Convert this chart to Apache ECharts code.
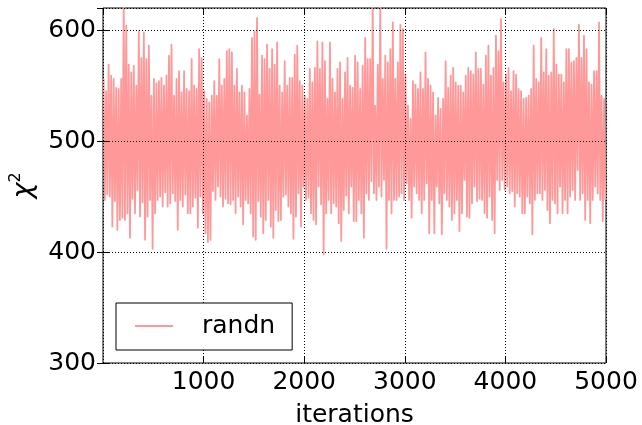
<!DOCTYPE html>
<html>
<head>
<meta charset="utf-8">
<title>chi-squared trace</title>
<script src="https://cdn.jsdelivr.net/npm/echarts@6/dist/echarts.min.js"></script>
<style>
  html, body { margin: 0; padding: 0; background: #fff; }
  #main { width: 642px; height: 425px; }
</style>
</head>
<body>
<div id="main"></div>
<script>
// Chi-squared trace of 5000 iterations, summarised per block of 25 iterations:
// the highest and the lowest value reached inside each block.
const blockSize = 25;

const blockHighs = [
  // iterations 0 - 1249
  556,545,569,559,556,548,547,556,623,604,569,562,568,550,599,575,598,574,586,541,
  556,552,554,557,550,559,577,587,541,556,563,544,563,547,545,574,550,547,583,575,
  545,538,535,541,554,541,574,550,556,581,
  // iterations 1250 - 2499
  583,580,550,565,544,550,544,523,547,593,599,611,542,577,574,587,565,583,569,589,
  550,544,572,550,557,557,578,586,554,550,541,538,565,553,566,590,565,589,572,538,
  589,556,544,565,571,538,562,575,550,548,
  // iterations 2500 - 3749
  577,571,547,568,593,574,574,624,532,569,624,556,577,571,583,607,556,571,605,601,
  560,532,520,554,551,547,562,547,580,556,550,544,523,539,529,538,572,548,559,566,
  553,550,550,544,559,566,563,560,580,565,
  // iterations 3750 - 4999
  565,551,577,586,559,566,595,581,610,553,560,566,545,563,560,547,545,538,539,541,
  547,586,556,553,593,562,583,559,562,601,569,560,560,553,583,583,571,572,575,605,
  575,595,583,553,551,563,563,607,541,538
];

const blockLows = [
  // iterations 0 - 1249
  447,452,450,423,446,420,429,431,429,435,413,448,435,456,432,445,411,432,447,403,
  435,447,450,441,454,441,444,453,446,420,447,441,452,435,435,441,449,422,450,435,
  417,409,411,455,447,459,450,441,448,444,
  // iterations 1250 - 2499
  443,447,435,450,441,425,447,444,435,414,411,446,432,417,429,447,423,413,438,428,
  429,450,452,441,435,412,432,453,423,459,447,449,435,429,425,459,443,398,435,447,
  435,444,441,426,410,438,451,435,459,428,
  // iterations 2500 - 3749
  428,447,435,413,453,447,464,453,447,459,450,465,403,447,435,447,447,450,453,447,
  462,447,431,459,453,447,435,447,462,417,447,417,459,444,416,453,447,441,429,435,
  447,419,435,465,432,431,444,459,446,448,
  // iterations 3750 - 4999
  447,435,431,450,429,417,465,456,465,456,459,453,455,441,453,450,435,435,450,444,
  416,447,453,453,447,456,438,426,447,444,435,459,435,447,435,450,456,447,474,447,
  453,429,447,426,447,459,453,447,428,447
];

const xTicks = { min: 0, max: 5000, step: 1000 };
const yTicks = { min: 300, max: 620, step: 100 };
const seriesName = 'randn';

// Each block contributes its high then its low, in iteration order.
const trace = [];
for (let i = 0; i < blockHighs.length; i++) {
  trace.push([i * blockSize + 6, blockHighs[i]]);
  trace.push([i * blockSize + 18, blockLows[i]]);
}

const FONT = 'DejaVu Sans';
const FONT_SIZE = 25;
const INK = '#000';
const TRACE_COLOR = '#ff9999';

const gridDots = { show: true, lineStyle: { color: INK, width: 1, type: [1, 2] } };
const innerTicks = { show: true, inside: true, length: 6, lineStyle: { color: INK, width: 1 } };
const plainNumber = v => String(v);

function xAxisDef(position, withLabels) {
  return {
    type: 'value', position, z: 10,
    min: xTicks.min, max: xTicks.max, interval: xTicks.step,
    axisLine: { show: false },
    axisTick: innerTicks,
    splitLine: withLabels ? gridDots : { show: false },
    axisLabel: withLabels ? {
      show: true, color: INK, fontFamily: FONT, fontSize: FONT_SIZE, margin: 7,
      showMinLabel: false, formatter: plainNumber
    } : { show: false },
    name: withLabels ? 'iterations' : '',
    nameLocation: 'middle',
    nameGap: 40,
    nameTextStyle: { color: INK, fontFamily: FONT, fontSize: FONT_SIZE }
  };
}

function yAxisDef(position, withLabels) {
  return {
    type: 'value', position, z: 10,
    min: yTicks.min, max: yTicks.max, interval: yTicks.step,
    axisLine: { show: false },
    axisTick: innerTicks,
    splitLine: withLabels ? gridDots : { show: false },
    axisLabel: withLabels ? {
      show: true, color: INK, fontFamily: FONT, fontSize: FONT_SIZE, margin: 7,
      showMaxLabel: false, formatter: plainNumber
    } : { show: false },
    name: withLabels ? '{c|χ}{s|2}' : '',
    nameLocation: 'middle',
    nameRotate: 90,
    nameGap: 63,
    nameTextStyle: {
      color: INK, fontFamily: FONT, fontSize: FONT_SIZE,
      rich: {
        c: { fontSize: 27, fontStyle: 'italic', fontFamily: FONT, color: INK, lineHeight: 32 },
        s: { fontSize: 16, fontFamily: FONT, color: INK, verticalAlign: 'top', lineHeight: 16 }
      }
    }
  };
}

const chart = echarts.init(document.getElementById('main'), null, { renderer: 'canvas' });
chart.setOption({
  animation: false,
  backgroundColor: '#fff',
  grid: {
    left: 103, top: 8, width: 503, height: 355,
    outerBoundsMode: 'none',
    containLabel: false,
    show: true, borderColor: INK, borderWidth: 1, backgroundColor: 'transparent'
  },
  xAxis: [xAxisDef('bottom', true), xAxisDef('top', false)],
  yAxis: [yAxisDef('left', true), yAxisDef('right', false)],
  legend: {
    data: [{ name: seriesName, icon: 'rect' }],
    left: 116, top: 303,
    orient: 'horizontal',
    z: 20,
    padding: [9, 17, 10, 19],
    itemWidth: 38, itemHeight: 2, itemGap: 0,
    backgroundColor: '#fff', borderColor: INK, borderWidth: 1, borderRadius: 0,
    selectedMode: false,
    itemStyle: { color: TRACE_COLOR, borderWidth: 0 },
    formatter: '{t|{name}}',
    textStyle: {
      color: INK, fontFamily: FONT, fontSize: FONT_SIZE, lineHeight: 28,
      rich: { t: { padding: [0, 0, 0, 24], color: INK, fontFamily: FONT, fontSize: FONT_SIZE, lineHeight: 28 } }
    }
  },
  series: [{
    name: seriesName,
    type: 'line',
    xAxisIndex: 0, yAxisIndex: 0,
    data: trace,
    symbol: 'none',
    showSymbol: false,
    clip: true,
    lineStyle: { color: TRACE_COLOR, width: 1.8, join: 'round' },
    itemStyle: { color: TRACE_COLOR },
    emphasis: { disabled: true },
    z: 3
  }]
});
</script>
</body>
</html>
